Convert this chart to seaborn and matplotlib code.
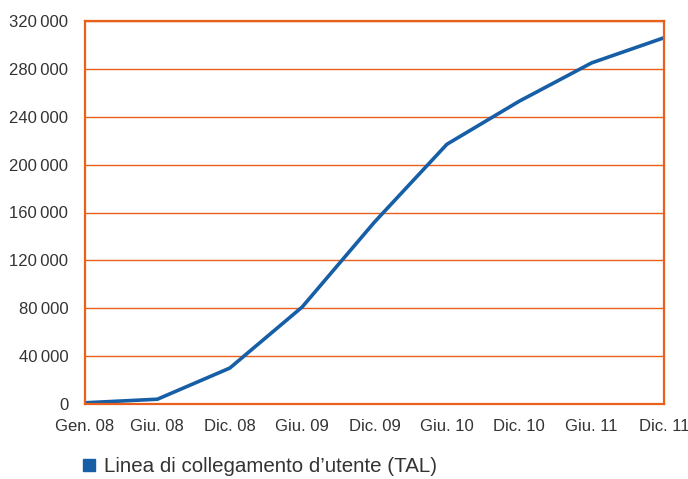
import matplotlib
matplotlib.use("Agg")
import matplotlib.pyplot as plt
import seaborn as sns
import pandas as pd
from matplotlib.lines import Line2D

periods = ["Gen. 08", "Giu. 08", "Dic. 08", "Giu. 09", "Dic. 09", "Giu. 10", "Dic. 10", "Giu. 11", "Dic. 11"]
tal = [1000, 4000, 30000, 81000, 152000, 217000, 253000, 285000, 306000]
y_ticks = [0, 40000, 80000, 120000, 160000, 200000, 240000, 280000, 320000]
legend_label = "Linea di collegamento d\u2019utente (TAL)"

ORANGE = "#E8601C"
BLUE = "#165FA6"
TEXT = "#333333"

sns.set_theme(style="white")
plt.rcParams['font.family'] = ['Liberation Sans Narrow', 'Liberation Sans', 'DejaVu Sans']

df = pd.DataFrame({"idx": range(len(periods)), "val": tal})

fig = plt.figure(figsize=(6.88, 4.79), dpi=100)
ax = fig.add_axes([85/688, 75/479, (664-85)/688, (404-21)/479])
sns.lineplot(data=df, x="idx", y="val", ax=ax, color=BLUE, linewidth=2.6)

ax.set_xlim(0, len(periods) - 1)
ax.set_ylim(0, 320000)
ax.set_xticks(range(len(periods)))
ax.set_xticklabels(periods, fontsize=12, color=TEXT)
ax.set_yticks(y_ticks)
ax.set_yticklabels([f"{v:,}".replace(",", "\u2009") for v in y_ticks], fontsize=12, color=TEXT)
ax.set_xlabel("")
ax.set_ylabel("")
ax.grid(axis="y", color=ORANGE, linewidth=1.0)
ax.set_axisbelow(True)
for s in ax.spines.values():
    s.set_color(ORANGE)
    s.set_linewidth(1.6)
ax.tick_params(axis="x", colors=ORANGE, length=5, width=1.4, direction="out", pad=6, labelcolor=TEXT)
ax.tick_params(axis="y", length=0, pad=12, labelcolor=TEXT)

handle = Line2D([], [], marker="s", linestyle="none", markersize=8.5, color=BLUE)
fig.legend([handle], [legend_label], loc="center left", bbox_to_anchor=(81/688, 12/479),
           frameon=False, fontsize=14.8, borderpad=0, borderaxespad=0,
           handlelength=0.8, handletextpad=0.32, labelcolor=TEXT)

fig.savefig("out.png", dpi=100)
